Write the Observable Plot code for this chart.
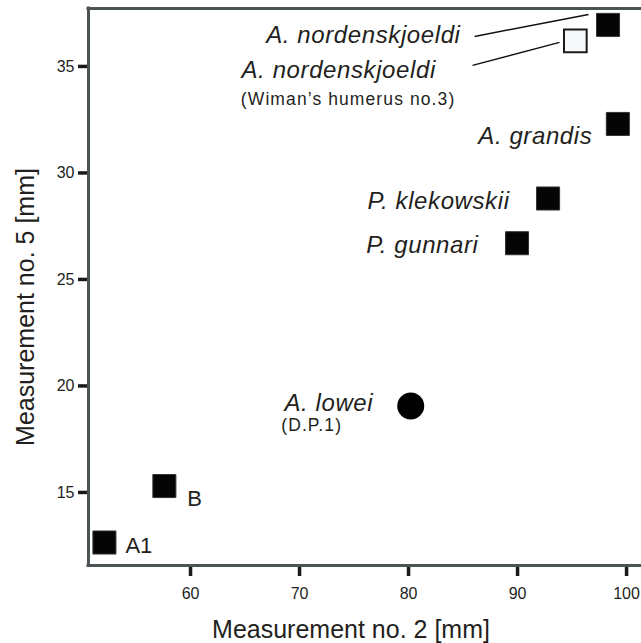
<!DOCTYPE html>
<html><head><meta charset="utf-8">
<script src="https://cdn.jsdelivr.net/npm/d3@7"></script>
<script src="https://cdn.jsdelivr.net/npm/@observablehq/plot@0.6"></script>
<style>
html,body{margin:0;padding:0;background:#fff;overflow:hidden}
svg g[font-style="italic"] text{letter-spacing:0.6px}
svg g[font-size="17.5"] text{letter-spacing:1.1px}
</style></head><body><div id="chart"></div>
<script>
// ---- data ----
const species = ["A1", "B", "A. lowei", "P. gunnari", "P. klekowskii", "A. grandis", "A. nordenskjoeldi (Wiman's humerus no.3)", "A. nordenskjoeldi"];
const measurement2 = [52.1, 57.6, 80.2, 89.95, 92.8, 99.2, 95.3, 98.3];
const measurement5 = [12.65, 15.3, 19.06, 26.7, 28.8, 32.3, 36.2, 36.95];
const markerType = ["filled", "filled", "circle", "filled", "filled", "filled", "open", "filled"];
const xTicks = [60, 70, 80, 90, 100];
const yTicks = [15, 20, 25, 30, 35];
const xDomain = [50.64, 101.37];
const yDomain = [11.57, 37.72];
const xTitle = "Measurement no. 2 [mm]";
const yTitle = "Measurement no. 5 [mm]";
// leader lines (data units)
const leaderX1 = [86.06, 85.87];
const leaderY1 = [36.41, 35.05];
const leaderX2 = [96.51, 93.85];
const leaderY2 = [37.44, 36.13];

const rows = species.map((s, i) => ({species: s, m2: measurement2[i], m5: measurement5[i], marker: markerType[i]}));
const leaders = leaderX1.map((x, i) => ({x1: x, y1: leaderY1[i], x2: leaderX2[i], y2: leaderY2[i]}));

const font = "'Liberation Sans', Arial, Helvetica, sans-serif";
const ink = "#231f20";
const tickInk = "#1a1a1a";
const frameColor = "#4b5354";

function label(i, text, o) {
  return Plot.text([rows[i]], {x: "m2", y: "m5", text: () => text, fill: ink, fontFamily: font,
    fontSize: 24, fontStyle: "italic", textAnchor: "end", lineAnchor: "middle", ...o});
}

const plot = Plot.plot({
  width: 641, height: 643,
  marginLeft: 88, marginRight: 0, marginTop: 8, marginBottom: 78,
  style: {fontFamily: font, background: "#fff"},
  x: {domain: xDomain},
  y: {domain: yDomain},
  marks: [
    // tick labels (tick marks drawn as rules below)
    Plot.axisX({ticks: xTicks, tickSize: 0, tickPadding: 22, fontSize: 16, color: ink, label: null}),
    Plot.axisY({ticks: yTicks, tickSize: 0, tickPadding: 14, fontSize: 16, color: ink, label: null}),
    // thick outward tick marks
    Plot.ruleX(xTicks, {y1: yDomain[0], y2: yDomain[0], insetBottom: -11, stroke: tickInk, strokeWidth: 3.5}),
    Plot.ruleY(yTicks, {x1: xDomain[0], x2: xDomain[0], insetLeft: -10, stroke: tickInk, strokeWidth: 3.5}),
    // frame (left, top, bottom)
    Plot.ruleX([xDomain[0]], {stroke: frameColor, strokeWidth: 3, strokeLinecap: "square"}),
    Plot.ruleY(yDomain, {stroke: frameColor, strokeWidth: 3, strokeLinecap: "square"}),
    Plot.link(leaders, {x1: "x1", y1: "y1", x2: "x2", y2: "y2", stroke: "#111", strokeWidth: 1.5}),
    Plot.dot(rows.filter(d => d.marker === "filled"), {x: "m2", y: "m5", symbol: "square", r: 13, fill: "#050505", stroke: "#333", strokeWidth: 1}),
    Plot.dot(rows.filter(d => d.marker === "open"), {x: "m2", y: "m5", symbol: "square", r: 12.8, fill: "#f6f9fc", stroke: "#1a1a1a", strokeWidth: 2}),
    Plot.dot(rows.filter(d => d.marker === "circle"), {x: "m2", y: "m5", symbol: "circle", r: 13.5, fill: "#000"}),
    label(7, "A. nordenskjoeldi", {dx: -147.5, dy: 10}),
    label(6, "A. nordenskjoeldi", {dx: -139.5, dy: 29}),
    label(6, "(Wiman’s humerus no.3)", {dx: -334.5, dy: 58.1, fontSize: 17.5, fontStyle: "normal", textAnchor: "start"}),
    label(5, "A. grandis", {dx: -25.5, dy: 12.5}),
    label(4, "P. klekowskii", {dx: -38.5, dy: 2.5}),
    label(3, "P. gunnari", {dx: -38.5, dy: 2.5}),
    label(2, "A. lowei", {dx: -37.5, dy: -2.5}),
    label(2, "(D.P.1)", {dx: -129.5, dy: 19.6, fontSize: 17.5, fontStyle: "normal", textAnchor: "start"}),
    label(1, "B", {dx: 23, dy: 12.5, fontSize: 22, fontStyle: "normal", textAnchor: "start"}),
    label(0, "A1", {dx: 21, dy: 3, fontSize: 22, fontStyle: "normal", textAnchor: "start"}),
    Plot.text([xTitle], {frameAnchor: "bottom", text: d => d, textAnchor: "middle", lineAnchor: "middle", dx: -14, dy: 64, fontSize: 25, fill: ink, fontFamily: font}),
    Plot.text([yTitle], {frameAnchor: "left", text: d => d, textAnchor: "middle", lineAnchor: "middle", rotate: -90, dx: -63, dy: 20, fontSize: 25, fill: ink, fontFamily: font})
  ]
});
document.getElementById("chart").appendChild(plot);
</script></body></html>
